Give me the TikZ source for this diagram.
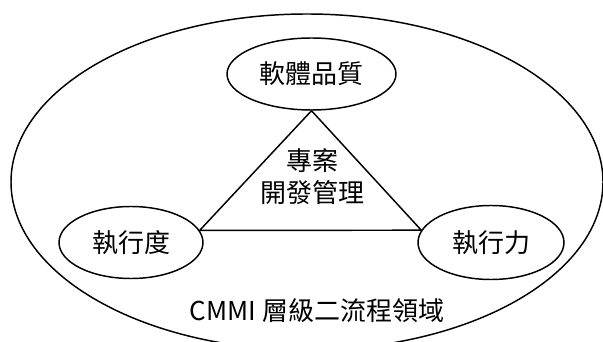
\documentclass[tikz,border=0pt]{standalone}
\usepackage{fontspec}
\setmainfont{Noto Sans CJK TC}
\usetikzlibrary{shapes.geometric}
\begin{document}
\begin{tikzpicture}[x=0.75pt,y=-0.75pt,
  line width=1.1pt,
  lbl/.style={font=\fontsize{19.5}{24}\selectfont},
  oval/.style={ellipse,draw,inner sep=0pt,lbl}]
\useasboundingbox (0,0) rectangle (603,342);
\begin{scope}
\clip (0,0) rectangle (603,342);
\node[ellipse,draw,minimum width=592*0.75pt,minimum height=336*0.75pt,inner sep=0pt] (outer) at (307,182) {};
\end{scope}
\node[oval,minimum width=169*0.75pt,minimum height=72*0.75pt] (Q) at (311.5,74) {軟體品質};
\node[oval,minimum width=144*0.75pt,minimum height=72*0.75pt] (L) at (131,242.5) {執行度};
\node[oval,minimum width=146*0.75pt,minimum height=74*0.75pt] (R) at (491,242.5) {執行力};
\draw[line join=miter] (Q.south) -- (L.10) -- (R.170) -- cycle;
\node[lbl,align=center] (P) at (312,177) {專案\\開發管理};
\node[lbl] (C) at (317,311) {CMMI 層級二流程領域};
\end{tikzpicture}
\end{document}
